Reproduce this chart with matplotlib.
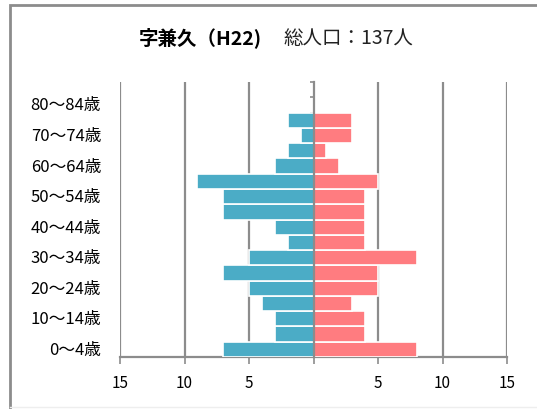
import matplotlib
matplotlib.use("Agg")
import matplotlib.pyplot as plt
from matplotlib.patches import Rectangle
import matplotlib.transforms as mtransforms
import numpy as np

plt.rcParams['font.family'] = ['Noto Sans CJK JP', 'DejaVu Sans']

age_groups = ["0～4歳", "5～9歳", "10～14歳", "15～19歳", "20～24歳", "25～29歳",
              "30～34歳", "35～39歳", "40～44歳", "45～49歳", "50～54歳", "55～59歳",
              "60～64歳", "65～69歳", "70～74歳", "75～79歳", "80～84歳", "85～89歳"]
male = [7, 3, 3, 4, 5, 7, 5, 2, 3, 7, 7, 9, 3, 2, 1, 2, 0, 0]
female = [8, 4, 4, 3, 5, 5, 8, 4, 4, 4, 4, 5, 2, 1, 3, 3, 0, 0]
x_ticks = [-15, -10, -5, 0, 5, 10, 15]
x_tick_labels = ["15", "10", "5", "", "5", "10", "15"]
title_main = "字兼久（H22)"
title_sub = "総人口：137人"

male_color = "#4BACC6"
female_color = "#FF7C80"
grid_color = "#8c8c8c"

fig = plt.figure(figsize=(5.37, 4.10), dpi=100)

# outer frame
frame = Rectangle((9.5 / 537, -0.02), 1.1, 1.0 - 5.5 / 410 + 0.02, transform=fig.transFigure,
                  fill=False, edgecolor="#8c8c8c", linewidth=2.0, clip_on=False)
fig.patches.append(frame)
fig.add_artist(plt.Line2D([9.5 / 537, 1.0], [1 - 407.5 / 410, 1 - 407.5 / 410],
                          transform=fig.transFigure, color="#eeeeee", linewidth=1))

ax = fig.add_axes([120 / 537, 52 / 410, 387 / 537, 275 / 410])

n = len(age_groups)
y = np.arange(n)
ax.barh(y, [-m for m in male], height=1.0, color=male_color, edgecolor="white",
        linewidth=1.2, zorder=3)
ax.barh(y, female, height=1.0, color=female_color, edgecolor="white",
        linewidth=1.2, zorder=3)

ax.set_xlim(-15, 15)
ax.set_ylim(-0.5, n - 0.5)

for xv in x_ticks:
    if xv != 0:
        ax.axvline(xv, color=grid_color, linewidth=1.6, zorder=1)

for s in ["top", "right"]:
    ax.spines[s].set_visible(False)
ax.spines["left"].set_position(("data", 0))
ax.spines["left"].set_color(grid_color)
ax.spines["left"].set_linewidth(1.6)
ax.spines["left"].set_zorder(4)
ax.spines["bottom"].set_color(grid_color)
ax.spines["bottom"].set_linewidth(1.6)

ax.set_yticks(np.arange(n + 1) - 0.5)
ax.set_yticklabels([])
ax.tick_params(axis="y", direction="out", length=3, color=grid_color, width=1.2)

ax.set_xticks(x_ticks)
ax.set_xticklabels(x_tick_labels, fontsize=11)
ax.tick_params(axis="x", direction="out", length=5, color=grid_color, width=1.2, pad=7)

trans = mtransforms.blended_transform_factory(fig.transFigure, ax.transData)
for i, lab in enumerate(age_groups):
    if i % 2 == 0 and i < n - 1:
        ax.text(101 / 537, i, lab, transform=trans, ha="right", va="center", fontsize=12)

fig.text(139 / 537, 1 - 38 / 410, title_main, ha="left", va="center", fontsize=14,
         fontweight="bold")
fig.text(283 / 537, 1 - 38 / 410, title_sub, ha="left", va="center", fontsize=14,
         color="#222222")

fig.savefig("out.png", dpi=100)
